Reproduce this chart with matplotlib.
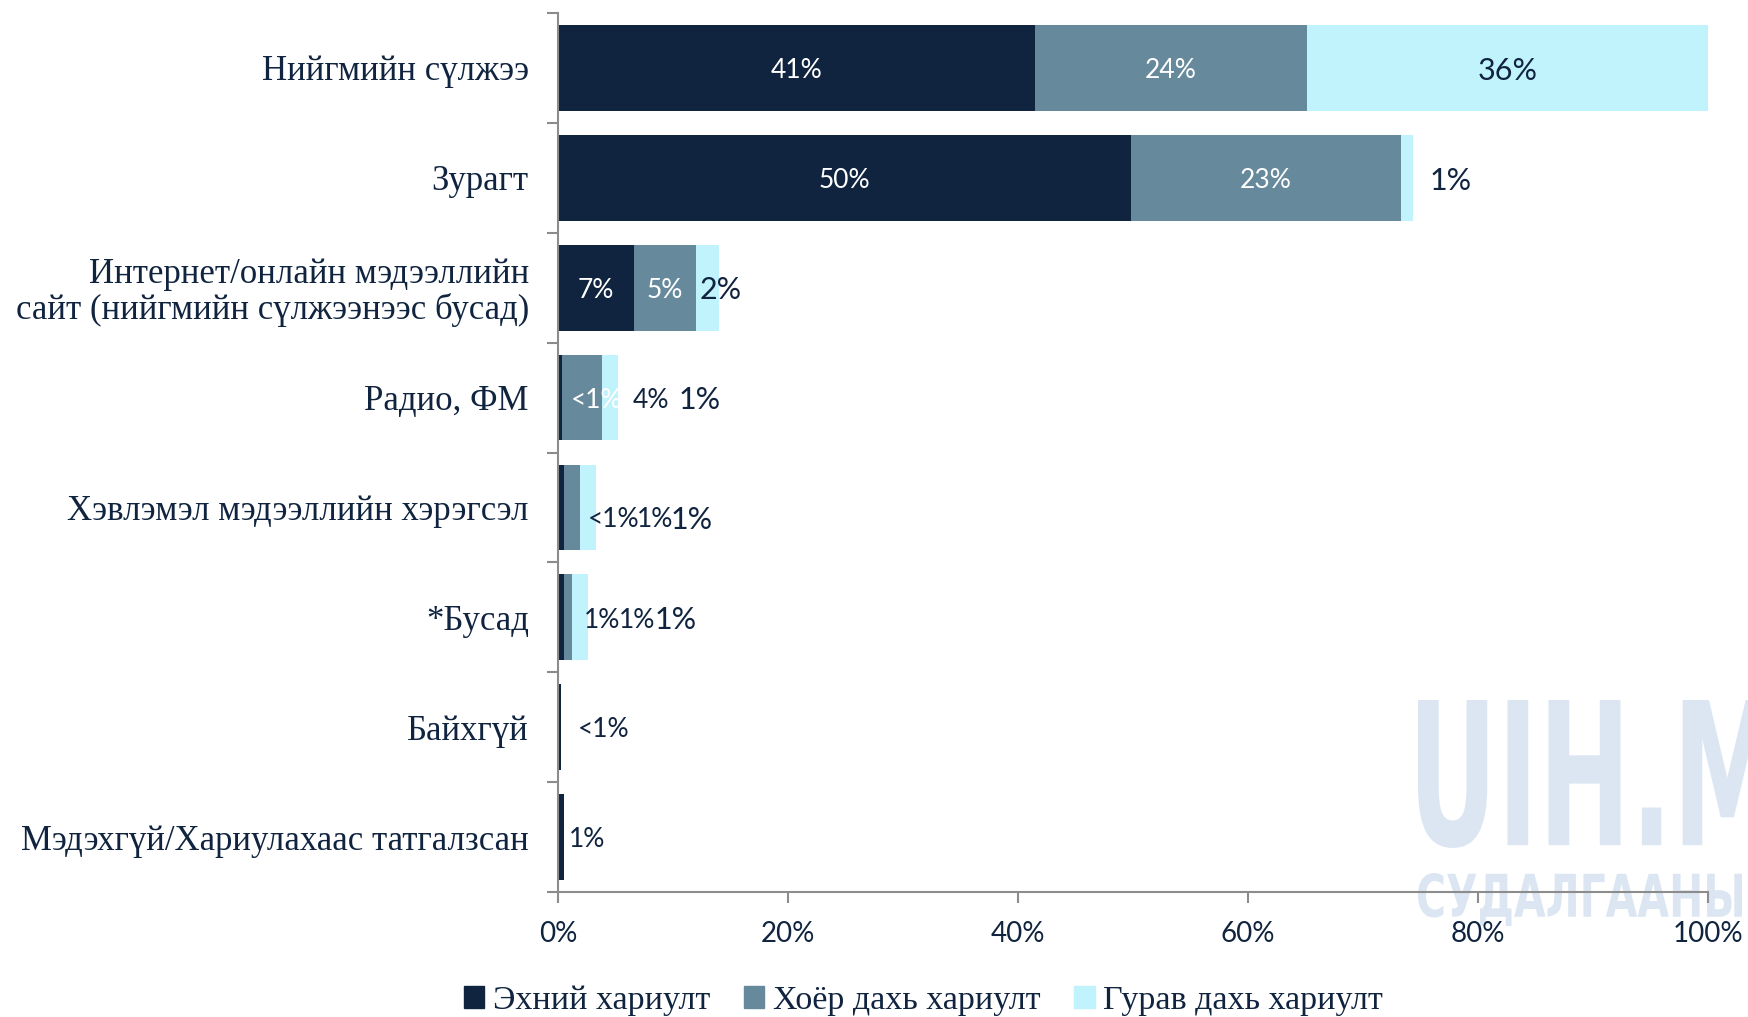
import matplotlib.pyplot as plt
import numpy as np
from matplotlib.textpath import TextPath
from matplotlib.patches import PathPatch
from matplotlib.font_manager import FontProperties
from matplotlib.transforms import Affine2D, IdentityTransform

# data (percent of respondents)
categories = ["Нийгмийн сүлжээ", "Зурагт",
              "Интернет/онлайн мэдээллийн\nсайт (нийгмийн сүлжээнээс бусад)",
              "Радио, ФМ", "Хэвлэмэл мэдээллийн хэрэгсэл", "*Бусад",
              "Байхгүй", "Мэдэхгүй/Хариулахаас татгалзсан"]
first = [41.5, 49.8, 6.6, 0.35, 0.5, 0.5, 0.25, 0.5]
second = [23.6, 23.5, 5.4, 3.5, 1.4, 0.7, 0, 0]
third = [34.9, 1.0, 2.0, 1.4, 1.45, 1.45, 0, 0]
first_lbl = ["41%", "50%", "7%", "<1%", "<1%", "1%", "<1%", "1%"]
second_lbl = ["24%", "23%", "5%", "4%", "1%", "1%", "", ""]
third_lbl = ["36%", "1%", "2%", "1%", "1%", "1%", "", ""]
series_names = ["Эхний хариулт", "Хоёр дахь хариулт", "Гурав дахь хариулт"]

colors = ["#10243f", "#66899c", "#c1f3fd"]
txt_col = "#10243f"
axis_col = "#8c8c8c"
lbl_font = "Lato"
cat_font = "Liberation Serif"

fig = plt.figure(figsize=(17.49, 10.17), dpi=100)
ax = fig.add_axes([0.319, 0.1229, 0.6577, 0.8643])
ax.set_facecolor("none")

# watermark, squeezed text paths drawn behind the axes
def watermark(text, ref, x0, y0, w, h):
    fp = FontProperties(family="DejaVu Sans", weight="bold")
    ext = TextPath((0, 0), ref, size=1, prop=fp).get_extents()
    path = TextPath((0, 0), text, size=1, prop=fp)
    sx, sy = w / ext.width, h / ext.height
    tr = Affine2D().translate(-ext.x0, -ext.y0).scale(sx, sy).translate(x0, y0)
    p = PathPatch(path, transform=tr + IdentityTransform(), color="#dbe6f2",
                  lw=0, zorder=-5)
    fig.add_artist(p)

watermark("UIH.M", "UIH.M", 1418, 1017 - 848, 354, 148)
watermark("СУДАЛГААНЫ ТӨВ", "СУДАЛГААНЫ", 1418, 1017 - 926, 324, 53)

y = np.arange(len(categories))
h = 0.78
lefts = np.zeros(len(categories))
for vals, c in zip([first, second, third], colors):
    ax.barh(y, vals, left=lefts, height=h, color=c, edgecolor="none", zorder=2)
    lefts = lefts + np.array(vals)

# segment labels: centred in wide segments, chained after the bar for thin ones
start_pad = [0, 12, -14, -34, -6, -3, 12, 4]   # points from bar end
chain_gap = [0, 0, 0, 7, -2, -1, 0, 0]
chain_dy = [-2, -2, -2, -2, -9, -2, -2, -2]
labels = [first_lbl, second_lbl, third_lbl]
for i in range(len(categories)):
    left = 0.0
    chain = []
    for k, vals in enumerate([first, second, third]):
        v = vals[i]
        t = labels[k][i]
        size = 22 if k == 2 else 19
        if t and v >= 5:
            col = txt_col if k == 2 else "white"
            ax.annotate(t, xy=(left + v / 2, y[i]), xytext=(0, -2),
                        textcoords="offset points", ha="center", va="center",
                        fontsize=size, color=col, family=lbl_font, zorder=4)
        elif t:
            chain.append((t, size))
        left += v
    prev = None
    for j, (t, size) in enumerate(chain):
        col = "white" if (i == 3 and j == 0) else txt_col
        if prev is None:
            prev = ax.annotate(t, xy=(left, y[i]), xytext=(start_pad[i], chain_dy[i]),
                               textcoords="offset points", ha="left", va="center",
                               fontsize=size, color=col, family=lbl_font, zorder=4)
        else:
            prev = ax.annotate(t, xy=(1, 0.5), xycoords=prev,
                               xytext=(chain_gap[i], 0),
                               textcoords="offset points", ha="left", va="center",
                               fontsize=size, color=col, family=lbl_font, zorder=4)

ax.set_ylim(len(categories) - 0.5, -0.5)
ax.set_xlim(0, 100)
ax.set_yticks(y)
ax.set_yticklabels(categories, fontsize=25, family=cat_font, color=txt_col,
                   linespacing=1.05)
ax.set_yticks(np.arange(-0.5, len(categories), 1), minor=True)
ax.tick_params(axis="y", which="major", length=0, pad=21)
ax.tick_params(axis="y", which="minor", length=8, color=axis_col, width=1.5)
ax.set_xticks(np.arange(0, 101, 20))
ax.set_xticklabels([f"{v}%" for v in range(0, 101, 20)], fontsize=20,
                   family=lbl_font, color=txt_col)
ax.tick_params(axis="x", length=8, color=axis_col, width=1.5, pad=13)
for s in ["top", "right"]:
    ax.spines[s].set_visible(False)
for s in ["left", "bottom"]:
    ax.spines[s].set_color(axis_col)
    ax.spines[s].set_linewidth(1.5)

handles = [plt.Rectangle((0, 0), 1, 1, color=c) for c in colors]
fig.legend(handles, series_names, loc="center", bbox_to_anchor=(0.528, 0.016),
           ncol=3, frameon=False, handlelength=0.6, handleheight=0.6,
           handletextpad=0.25, columnspacing=1.0,
           prop={"family": cat_font, "size": 24.5}, labelcolor=txt_col)

fig.savefig("out.png", dpi=100)
